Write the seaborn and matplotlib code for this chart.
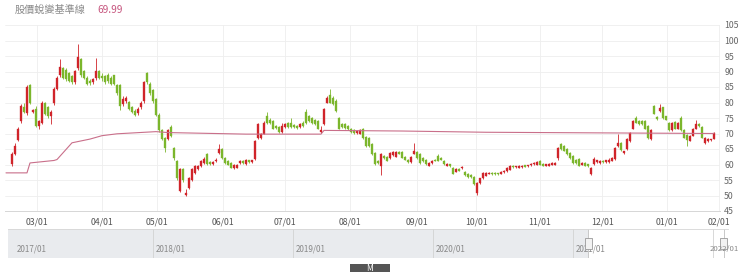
import numpy as np
import pandas as pd
import matplotlib
matplotlib.use("Agg")
import matplotlib.pyplot as plt
import seaborn as sns
from matplotlib.patches import Rectangle

# ---------------- data ----------------
title_text = "股價蛻變基準線"
title_value = "69.99"

opens = [60.2,63.5,68.0,74.0,78.5,76.5,85.5,77.0,78.0,72.5,
         73.5,79.7,78.4,75.8,79.7,84.5,88.8,91.0,90.5,89.5,
         88.5,86.5,91.0,94.0,90.0,88.0,87.0,86.5,87.8,90.0,
         88.5,88.5,89.0,88.0,88.8,85.5,85.5,79.5,80.6,80.0,
         78.5,77.4,76.5,78.4,80.6,89.4,86.0,84.0,81.0,76.0,
         71.0,68.6,68.3,72.0,65.4,61.0,51.4,58.6,50.3,52.4,
         55.0,57.3,58.6,59.5,60.5,63.4,60.8,60.3,61.0,63.8,
         65.0,62.0,61.0,60.5,59.0,59.0,60.5,61.0,60.2,61.3,
         60.8,61.8,68.6,68.6,70.0,75.8,74.5,74.0,72.5,72.0,
         70.5,72.0,73.5,73.5,72.8,72.5,72.0,73.5,76.8,75.5,
         75.0,74.5,74.0,70.5,73.0,80.0,82.3,81.5,80.5,75.0,
         73.0,73.0,72.5,71.5,71.0,70.2,70.0,71.5,69.0,68.6,
         66.7,63.8,61.0,59.5,62.8,62.5,62.0,63.0,62.5,64.0,
         64.0,62.5,61.5,60.8,63.5,64.0,63.5,62.0,61.5,59.6,
         60.5,61.5,62.8,62.0,61.2,59.6,60.0,59.0,57.7,58.5,
         58.8,57.5,57.0,56.5,56.0,50.8,54.0,55.5,56.4,57.0,
         57.3,57.3,57.2,57.0,57.5,57.9,58.3,59.5,59.1,59.0,
         59.2,59.6,59.4,59.7,60.2,60.0,61.2,60.2,59.6,59.6,
         60.0,60.0,62.1,66.7,66.0,65.0,63.8,62.8,61.5,61.8,
         60.0,60.6,59.8,57.0,60.2,60.7,60.5,61.2,60.7,60.8,
         61.2,61.8,66.0,67.0,63.6,65.0,67.6,71.6,75.0,74.0,
         74.0,74.0,72.5,68.3,79.0,75.0,77.3,78.4,75.5,73.5,
         71.0,73.8,71.5,75.0,71.0,69.6,67.7,69.3,71.6,73.0,
         72.0,67.0,67.5,67.8,68.3]

closes = [63.4,66.0,71.5,79.0,77.0,85.0,80.0,77.5,72.5,74.0,
          80.0,76.4,75.8,77.0,84.5,88.0,91.4,88.0,87.5,87.0,
          86.5,90.0,94.6,88.8,88.0,86.0,86.2,87.5,90.0,88.0,
          87.8,86.5,86.8,86.0,86.0,83.0,79.0,81.0,81.6,78.0,
          77.0,76.0,78.0,80.0,86.5,86.5,83.0,80.6,76.0,71.0,
          68.3,65.4,71.0,69.3,62.0,55.6,58.6,55.0,50.8,55.6,
          58.6,59.5,59.5,61.0,61.8,60.2,60.3,60.7,61.5,65.0,
          62.0,60.5,60.0,59.0,59.8,60.0,61.0,60.5,61.5,60.8,
          61.3,67.6,73.0,70.0,73.5,73.5,73.5,71.6,71.8,70.5,
          72.5,73.0,72.0,72.0,72.0,71.7,73.2,72.5,73.5,74.0,
          73.5,73.0,71.6,71.0,78.0,81.6,80.0,79.5,77.4,71.6,
          72.0,71.8,71.5,70.5,70.2,70.8,71.0,68.5,66.0,66.0,
          63.4,60.2,60.5,63.4,62.0,61.2,63.8,64.0,64.0,63.5,
          62.2,61.5,60.8,62.5,64.4,62.0,60.5,61.0,60.2,60.5,
          61.2,61.2,61.2,61.5,60.2,60.2,59.5,57.0,58.6,58.0,
          59.2,56.5,56.0,56.0,53.7,54.0,55.5,57.3,57.3,57.2,
          56.8,56.9,56.9,57.7,58.0,58.9,59.5,59.1,59.3,59.5,
          59.6,59.3,59.7,60.2,60.5,60.7,60.0,59.6,59.9,60.2,
          60.4,60.6,65.4,65.0,64.5,63.3,62.1,60.5,60.5,59.6,
          60.5,59.6,59.6,58.9,61.8,61.3,61.0,60.7,61.3,61.6,
          62.0,65.4,67.0,64.8,64.2,68.3,70.3,74.0,73.5,73.0,
          73.0,71.6,68.6,71.0,76.4,74.8,78.2,75.0,74.5,71.0,
          73.5,71.6,73.5,71.0,68.6,68.0,69.3,71.6,73.0,72.3,
          68.6,68.6,68.2,68.0,70.3]

highs = [64.0,66.8,72.0,79.5,80.0,85.5,86.0,78.0,79.0,74.5,
         80.5,80.2,79.0,77.5,85.0,88.5,94.0,91.5,91.0,90.0,
         89.0,90.5,99.0,94.5,90.5,88.5,87.5,88.0,94.5,90.5,
         89.5,89.0,89.5,88.5,89.0,86.0,86.0,82.0,82.0,80.5,
         79.0,77.8,78.5,80.6,87.0,90.0,86.5,84.5,81.5,76.5,
         71.5,69.0,71.5,72.8,65.8,61.5,59.0,59.0,52.0,56.0,
         59.0,60.0,60.0,61.3,62.5,63.8,61.2,61.0,62.0,66.7,
         65.3,62.3,61.3,60.8,60.2,60.3,61.3,61.3,61.8,61.6,
         61.6,68.0,73.5,70.3,74.0,77.0,75.0,74.3,72.8,72.3,
         73.3,73.3,73.8,75.0,73.0,72.8,73.5,74.0,78.0,76.0,
         75.3,74.8,74.3,72.5,78.3,82.0,84.5,82.0,81.0,75.3,
         73.3,73.3,72.8,71.8,71.3,71.2,71.3,71.8,69.3,68.9,
         67.0,64.0,61.3,63.8,63.0,62.8,64.0,64.3,64.3,64.3,
         64.3,62.8,61.8,62.8,67.0,64.3,63.8,62.3,61.8,60.8,
         61.5,61.8,63.5,62.3,61.5,60.5,60.3,59.3,58.9,58.8,
         59.5,57.8,57.3,56.8,56.3,54.3,55.8,57.6,57.6,57.5,
         57.6,57.5,57.4,58.0,58.3,59.2,59.8,59.8,59.6,59.8,
         59.9,59.9,60.0,60.5,60.8,61.0,61.5,60.5,60.2,60.5,
         60.7,60.9,65.7,67.0,66.3,65.3,64.1,63.1,61.8,62.0,
         60.8,60.9,60.0,59.2,62.4,61.6,61.3,61.5,61.6,62.2,
         62.3,65.7,70.0,67.3,64.5,68.6,70.6,74.3,75.5,74.3,
         74.3,74.3,72.8,71.3,79.3,75.5,79.5,78.7,75.8,73.8,
         73.8,74.1,73.8,75.5,71.3,69.9,69.6,71.9,74.5,73.3,
         72.3,68.9,68.5,68.3,70.6]

lows = [59.6,63.0,67.5,73.5,76.5,76.0,79.5,76.5,72.0,71.5,
        73.0,76.0,75.0,73.0,79.2,84.0,88.3,87.5,87.0,86.5,
        86.0,86.0,90.5,88.3,87.5,85.5,85.5,86.0,87.3,87.5,
        87.0,86.0,86.3,85.5,85.5,82.5,77.5,79.0,80.0,77.5,
        76.5,75.5,76.0,78.0,80.0,86.0,82.5,80.0,75.5,70.5,
        67.8,64.0,68.0,69.0,61.5,55.0,51.0,54.5,50.0,52.0,
        54.8,57.0,58.2,59.2,60.2,60.0,60.0,60.0,60.8,63.5,
        61.8,60.2,59.7,58.8,58.7,58.8,60.2,60.2,60.0,60.5,
        60.5,61.5,68.3,68.3,69.8,73.2,73.2,71.3,71.5,70.2,
        70.2,71.8,71.8,71.8,71.8,71.5,71.8,72.2,73.2,73.8,
        73.2,72.8,71.3,70.2,72.8,79.8,79.8,79.3,77.0,71.3,
        71.8,71.5,71.2,70.2,70.0,70.0,69.8,68.2,65.8,65.8,
        63.2,60.0,60.2,56.6,61.8,61.0,61.8,62.8,62.3,63.3,
        62.0,61.3,60.5,60.5,63.3,61.8,60.2,60.8,60.0,59.4,
        60.3,61.0,61.0,61.3,60.0,59.4,59.3,56.8,57.5,57.8,
        58.6,56.3,55.8,55.8,53.5,50.3,53.8,55.3,56.2,56.8,
        56.6,56.7,56.7,56.8,57.3,57.7,58.1,58.9,58.9,58.8,
        59.0,59.1,59.2,59.5,60.0,59.8,59.8,59.4,59.4,59.4,
        59.8,59.8,61.5,64.8,64.3,63.1,61.9,60.3,60.2,59.4,
        59.8,59.4,59.3,56.5,60.0,60.5,60.3,60.5,60.5,60.6,
        61.0,61.5,65.8,64.5,63.4,64.8,67.4,71.4,73.3,72.8,
        72.8,71.3,68.3,68.0,76.2,74.5,77.0,74.8,74.3,70.8,
        70.8,71.4,71.3,70.8,68.4,66.0,67.5,69.1,71.4,72.1,
        68.4,66.5,67.3,67.6,68.1]

# baseline (pink line) vertices: trading-day index and value
baseline_day = [-2, 5, 6, 14, 15, 20, 23, 26, 30, 35, 48, 52, 78, 103, 104, 130, 158, 234]
baseline_val = [57.3, 57.3, 60.5, 61.3, 61.6, 67.0, 67.6, 68.2, 69.3, 69.9, 70.6, 70.3,
                69.8, 69.8, 71.0, 70.8, 70.4, 70.0]

# month tick labels and their trading-day index
month_labels = ["03/01", "04/01", "05/01", "06/01", "07/01", "08/01",
                "09/01", "10/01", "11/01", "12/01", "01/01", "02/01"]
month_day = [8.3, 30, 48.3, 70.3, 91, 112.7, 135, 154.7, 176, 196.7, 218.3, 235.7]

y_ticks = [45, 50, 55, 60, 65, 70, 75, 80, 85, 90, 95, 100, 105]

nav_years = [2017, 2018, 2019, 2020, 2021, 2022]
nav_labels = ["2017/01", "2018/01", "2019/01", "2020/01", "2021/01", "2022/01"]
nav_sel_start, nav_sel_end = 2021.11, 2022.08

# ---------------- drawing ----------------
sns.set_theme(style="white")
plt.rcParams['font.family'] = ['Noto Sans CJK TC', 'DejaVu Sans']

W, H = 740, 272
fig = plt.figure(figsize=(W / 100, H / 100), dpi=100)

def fx(px):
    return px / W

def fy(py):
    return 1 - py / H

df = pd.DataFrame({"open": opens, "high": highs, "low": lows, "close": closes})
df["day"] = np.arange(len(df))
UP, DOWN = "#d0242a", "#7bb62c"
colors = np.where(df["close"] >= df["open"], UP, DOWN)

ax = fig.add_axes([fx(5), fy(211), fx(720) - fx(5), (211 - 25) / H])
ax.vlines(df["day"], df["low"], df["high"], colors=colors, linewidth=0.6, zorder=2)
body = np.maximum((df["close"] - df["open"]).abs(), 0.4)
ax.bar(df["day"], body, bottom=np.minimum(df["open"], df["close"]), width=0.95,
       color=colors, edgecolor=colors, linewidth=0.25, zorder=3)

sns.lineplot(x=baseline_day, y=baseline_val, ax=ax, color="#c96f8a", linewidth=0.8, zorder=4)

ax.set_xlim(-2.33, 236)
ax.set_ylim(45, 105)
ax.set_yticks(y_ticks)
ax.yaxis.tick_right()
ax.set_xticks(month_day)
ax.set_xticklabels(month_labels)
ax.tick_params(axis="y", length=0, pad=3, labelsize=6.3, labelcolor="#666666")
ax.tick_params(axis="x", length=0, pad=5, labelsize=6.3, labelcolor="#555555")
ax.grid(True, color="#eeeeee", linewidth=0.6)
ax.set_axisbelow(True)
for s in ["top", "left", "right"]:
    ax.spines[s].set_visible(False)
ax.spines["bottom"].set_color("#d6d6d6")
ax.spines["bottom"].set_linewidth(0.7)
ax.set_xlabel("")
ax.set_ylabel("")

# title
fig.text(fx(15), fy(10), title_text, fontsize=7.3, color="#8a8a8a", va="center", ha="left")
fig.text(fx(97), fy(10), title_value, fontsize=7.3, color="#c6557e", va="center", ha="left")

# navigator
nav = fig.add_axes([fx(8), fy(258), fx(728) - fx(8), (258 - 229) / H])
nav.set_xlim(2016.96, 2022.11)
nav.set_ylim(0, 1)
nav.axvspan(2016.96, nav_sel_start, color="#e9ebee", lw=0)
for yr in nav_years[1:]:
    nav.axvline(yr, color="#d2d2d2", lw=0.6)
for yr, lab in zip(nav_years[:-1], nav_labels[:-1]):
    nav.text(yr + 0.02, 0.3, lab, fontsize=5.8, color="#888888", va="center", ha="left")
fig.text(fx(739), fy(249), nav_labels[-1], fontsize=5.6, color="#888888",
         va="center", ha="right")
nav.plot([nav_sel_start, nav_sel_end], [0.005, 0.005], color="#c8c8c8", lw=0.7)
nav.plot([nav_sel_start, nav_sel_start], [0, 1], color="#c8c8c8", lw=0.7)
nav.plot([nav_sel_end, nav_sel_end], [0, 1], color="#c8c8c8", lw=0.7)
for hx in (nav_sel_start, nav_sel_end):
    nav.add_patch(Rectangle((hx - 0.025, 0.3), 0.05, 0.4, facecolor="#f2f2f2",
                            edgecolor="#999999", lw=0.6, zorder=5))
nav.set_xticks([])
nav.set_yticks([])
for s in nav.spines.values():
    s.set_visible(False)
nav.spines["top"].set_visible(True)
nav.spines["top"].set_color("#d6d6d6")
nav.spines["top"].set_linewidth(0.6)

# range button
fig.patches.append(Rectangle((fx(350), fy(272)), fx(390) - fx(350), 8 / H,
                             transform=fig.transFigure, facecolor="#555555", edgecolor="none"))
fig.text(fx(370), fy(268.5), "M", fontsize=6, color="white", ha="center", va="center")

fig.savefig("out.png", dpi=100)
